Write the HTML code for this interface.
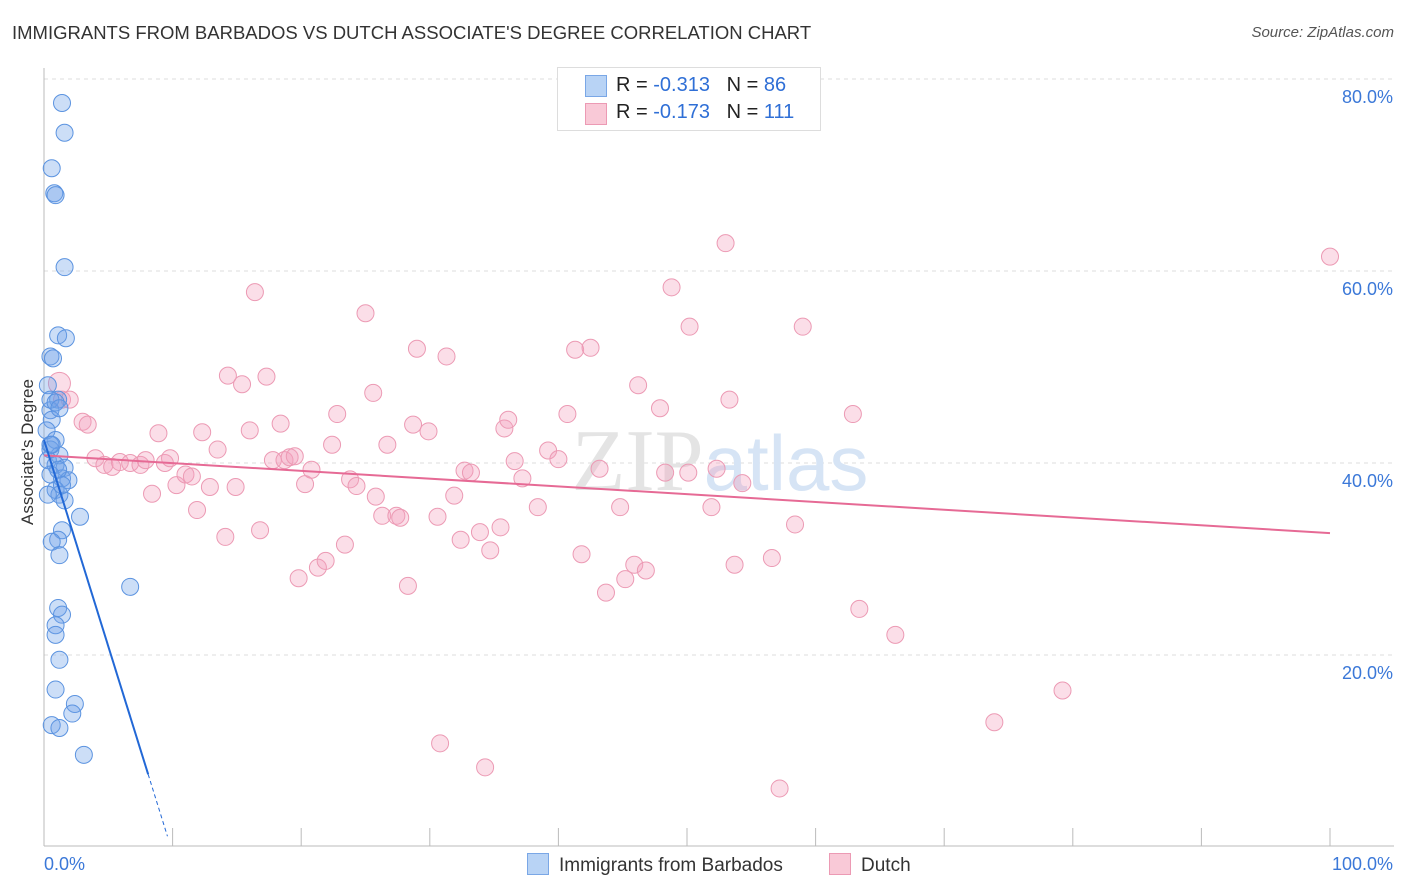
<!DOCTYPE html>
<html><head><meta charset="utf-8">
<style>
body{margin:0;background:#fff;font-family:"Liberation Sans",sans-serif;}
#wrap{position:relative;width:1406px;height:892px;overflow:hidden;}
.t{position:absolute;white-space:nowrap;}
</style></head>
<body>
<div id="wrap">
<div class="t" style="left:12px;top:22px;font-size:18.5px;color:#333;">IMMIGRANTS FROM BARBADOS VS DUTCH ASSOCIATE'S DEGREE CORRELATION CHART</div>
<div class="t" style="right:12px;top:24px;font-size:15px;color:#555;font-style:italic;">Source: ZipAtlas.com</div>
<div class="t" style="left:-42px;top:445px;font-size:17px;color:#333;transform:rotate(-90deg);transform-origin:center;width:140px;text-align:center;">Associate's Degree</div>
<svg id="plot" width="1406" height="892" style="position:absolute;left:0;top:0"></svg>
<div style="position:absolute;left:557px;top:67px;width:262px;height:62px;border:1px solid #ddd;background:#fff;font-size:20px;">
 <div style="position:absolute;left:27px;top:7px;width:20px;height:20px;background:#b8d3f5;border:1px solid #7aa7e6;"></div>
 <div class="t" style="left:58px;top:6px;color:#222;">R = <span style="color:#2f6fd6">-0.313</span>&nbsp;&nbsp;&nbsp;N = <span style="color:#2f6fd6">86</span></div>
 <div style="position:absolute;left:27px;top:35px;width:20px;height:20px;background:#f9c9d7;border:1px solid #ec9ab4;"></div>
 <div class="t" style="left:58px;top:33px;color:#222;">R = <span style="color:#2f6fd6">-0.173</span>&nbsp;&nbsp;&nbsp;N = <span style="color:#2f6fd6">111</span></div>
</div>
<div style="position:absolute;left:527px;top:853px;font-size:19px;color:#333;"><span style="display:inline-block;width:20px;height:20px;background:#b8d3f5;border:1px solid #7aa7e6;vertical-align:-4px;margin-right:10px"></span>Immigrants from Barbados</div>
<div style="position:absolute;left:829px;top:853px;font-size:19px;color:#333;"><span style="display:inline-block;width:20px;height:20px;background:#f9c9d7;border:1px solid #ec9ab4;vertical-align:-4px;margin-right:10px"></span>Dutch</div>
</div>
<script>
const blueX=[1.4,1.6,0.6,0.8,0.9,1.6,1.1,1.7,0.5,0.7,0.3,1.1,0.5,0.6,0.2,0.9,0.5,1.2,0.3,0.9,1.6,0.5,1.4,1.9,0.9,1.2,1.6,2.8,1.4,1.1,0.6,1.2,6.7,1.1,1.4,0.9,0.9,1.2,0.9,2.4,2.2,0.6,1.2,3.1,0.5,0.6,1.1,1.4,0.3,0.5,0.9,1.2];
const blueY=[77.5,74.4,70.7,68.1,67.9,60.4,53.3,53.0,51.1,50.9,48.1,46.6,45.5,44.5,43.4,42.4,41.4,40.8,40.3,39.8,39.5,38.8,38.4,38.2,37.2,36.7,36.1,34.4,33.0,32.0,31.8,30.4,27.1,24.9,24.2,23.1,22.1,19.5,16.4,14.9,13.9,12.7,12.4,9.6,41.9,41.9,39.3,37.7,36.7,46.6,46.3,45.7];
const pinkX=[1.2,1.4,2.0,3.0,3.4,4.0,4.7,5.3,5.9,6.7,7.5,7.9,8.4,8.9,9.4,9.8,10.3,11.0,11.5,11.9,12.3,12.9,13.5,14.1,14.3,14.9,15.4,16.0,16.4,16.8,17.3,17.8,18.4,18.7,19.1,19.5,19.8,20.3,20.8,21.3,21.9,22.4,22.8,23.4,23.8,24.3,25.0,25.6,25.8,26.3,26.7,27.4,27.7,28.3,28.7,29.0,29.9,30.6,30.8,31.3,31.9,32.4,32.7,33.2,33.9,34.3,34.7,35.5,35.8,36.1,36.6,37.2,38.4,39.2,40.0,40.7,41.3,41.8,42.5,43.2,43.7,44.8,45.2,45.9,46.2,46.8,47.9,48.3,48.8,50.1,50.2,51.9,52.3,53.0,53.3,53.7,54.3,56.6,57.2,58.4,59.0,62.9,63.4,66.2,73.9,79.2,100];
const pinkY=[48.3,46.6,46.6,44.3,44.0,40.5,39.8,39.6,40.1,40.0,39.8,40.3,36.8,43.1,40.0,40.5,37.7,38.8,38.6,35.1,43.2,37.5,41.4,32.3,49.1,37.5,48.2,43.4,57.8,33.0,49.0,40.3,44.1,40.3,40.6,40.7,28.0,37.8,39.3,29.1,29.8,41.9,45.1,31.5,38.3,37.6,55.6,47.3,36.5,34.5,41.9,34.5,34.3,27.2,44.0,51.9,43.3,34.4,10.8,51.1,36.6,32.0,39.2,39.0,32.8,8.3,30.9,33.3,43.6,44.5,40.2,38.4,35.4,41.3,40.4,45.1,51.8,30.5,52.0,39.4,26.5,35.4,27.9,29.4,48.1,28.8,45.7,39.0,58.3,39.0,54.2,35.4,39.4,62.9,46.6,29.4,37.9,30.1,6.1,33.6,54.2,45.1,24.8,22.1,13.0,16.3,61.5];
const yTicks=[20,40,60,80];
const yTickLabels=["20.0%","40.0%","60.0%","80.0%"];
const xTicks=[0,10,20,30,40,50,60,70,80,90,100];
const blueLine=[42.4,-4.3,8.1,9.6];
const pinkLine=[40.8,32.7];

const X=v=>44+v*12.86, Y=v=>847-v*9.6;
const svg=document.getElementById('plot');
const NS='http://www.w3.org/2000/svg';
function mk(tag,attrs){const e=document.createElementNS(NS,tag);for(const k in attrs)e.setAttribute(k,attrs[k]);svg.appendChild(e);return e;}
yTicks.forEach((v,i)=>{
  const g=mk('line',{x1:44,x2:1394,y1:Y(v),y2:Y(v),stroke:'#ddd','stroke-dasharray':'4,4'});
  
  
  const t=mk('text',{x:1393,y:Y(v)+24,'text-anchor':'end','font-size':18,fill:'#3b78d8','font-family':'Liberation Sans, sans-serif'});
  t.textContent=yTickLabels[i];
  
  
});
const tg=mk('line',{x1:44,x2:1394,y1:79,y2:79,stroke:'#ddd','stroke-dasharray':'4,4'});


const ya=mk('line',{x1:44,x2:44,y1:68,y2:846,stroke:'#bbb'});


const xa=mk('line',{x1:44,x2:1394,y1:846,y2:846,stroke:'#bbb'});


xTicks.forEach(v=>{
  const t=mk('line',{x1:X(v),x2:X(v),y1:828,y2:846,stroke:'#bbb'});
  
  
});
const xl0=mk('text',{x:44,y:870,'font-size':18,fill:'#3b78d8','font-family':'Liberation Sans, sans-serif'});xl0.textContent='0.0%';


const xl1=mk('text',{x:1393,y:870,'text-anchor':'end','font-size':18,fill:'#3b78d8','font-family':'Liberation Sans, sans-serif'});xl1.textContent='100.0%';


const wm=mk('text',{x:720,y:490,'text-anchor':'middle','font-size':88,fill:'#e4e4e4','font-family':'Liberation Serif, serif'});
wm.innerHTML='ZIP<tspan fill="#d6e4f5" font-family="Liberation Sans, sans-serif" font-size="78">atlas</tspan>';


pinkX.forEach((v,i)=>{
  const c=mk('circle',{cx:X(v),cy:Y(pinkY[i]),r:(i<1?11:8.5),fill:'rgba(244,160,188,0.35)',stroke:'#ec9ab4','stroke-width':1});
  
  
});
blueX.forEach((v,i)=>{
  const c=mk('circle',{cx:X(v),cy:Y(blueY[i]),r:8.5,fill:'rgba(110,160,232,0.35)',stroke:'#5b93e0','stroke-width':1});
  
  
});
const pl=mk('line',{x1:X(0),y1:Y(pinkLine[0]),x2:X(100),y2:Y(pinkLine[1]),stroke:'#e66a95','stroke-width':2});


const by=x=>blueLine[0]+blueLine[1]*x;
const bl=mk('line',{x1:X(0),y1:Y(by(0)),x2:X(blueLine[2]),y2:Y(by(blueLine[2])),stroke:'#2268d6','stroke-width':2});


const bd=mk('line',{x1:X(blueLine[2]),y1:Y(by(blueLine[2])),x2:X(blueLine[3]),y2:Y(by(blueLine[3])),stroke:'#2268d6','stroke-width':1,'stroke-dasharray':'4,3'});


</script>
</body></html>
